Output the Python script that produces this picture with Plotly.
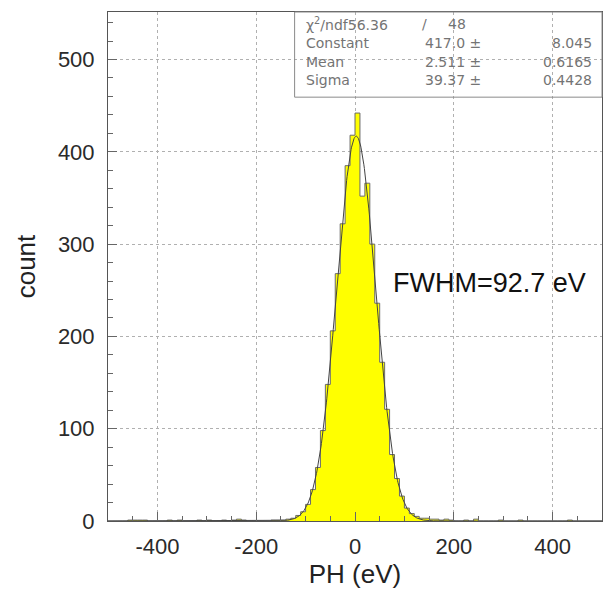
import numpy as np
import plotly.graph_objects as go

# Pulse-height histogram, 10 eV bins from -500 to 500 eV
bin_lo = -500
bin_width = 10
counts = [
    0, 0, 0, 0, 1, 1, 1, 1, 0, 0,          # -500 .. -400
    0, 0, 1, 0, 1, 0, 0, 0, 1, 0,          # -400 .. -300
    1, 0, 0, 1, 0, 1, 2, 1, 0, 0,          # -300 .. -200
    0, 0, 0, 1, 1, 1, 2, 3, 6, 10,         # -200 .. -100
    18, 34, 58, 98, 148, 206, 268, 322, 385, 418,   # -100 .. 0
    442, 352, 366, 300, 236, 172, 121, 72, 46, 27,  # 0 .. 100
    14, 8, 5, 3, 3, 2, 2, 1, 2, 1,         # 100 .. 200
    0, 0, 1, 0, 2, 0, 0, 0, 0, 1,          # 200 .. 300
    0, 0, 0, 1, 0, 0, 0, 0, 0, 0,          # 300 .. 400
    0, 0, 0, 1, 0, 0, 0, 0, 0, 0,          # 400 .. 500
]

# Gaussian fit results
fit_const, fit_const_err = 417.0, 8.045
fit_mean, fit_mean_err = 2.511, 0.6165
fit_sigma, fit_sigma_err = 39.37, 0.4428
chi2, ndf = 56.36, 48
fwhm_ev = 92.7

x_ticks = [-400, -200, 0, 200, 400]
x_tick_labels = ["-400", "-200", "0", "200", "400"]
y_ticks = [0, 100, 200, 300, 400, 500]

edges = [bin_lo + i * bin_width for i in range(len(counts) + 1)]
step_y = counts + [counts[-1]]

fx = np.linspace(-500, 500, 1001)
fy = fit_const * np.exp(-0.5 * ((fx - fit_mean) / fit_sigma) ** 2)

fig = go.Figure()
fig.add_trace(go.Scatter(
    x=edges, y=step_y, mode="lines", line_shape="hv",
    line=dict(color="#6a6a6a", width=1),
    fill="tozeroy", fillcolor="#ffff00", hoverinfo="skip",
))
fig.add_trace(go.Scatter(
    x=fx, y=fy, mode="lines", line=dict(color="#444444", width=1),
    hoverinfo="skip",
))

# plot-area pixel geometry used for the stats box
L, R, T, B = 108, 603, 12, 526
W, H = R - L, B - T


def px(x):
    return (x - L) / W


def py(y):
    return (B - y) / H


stat_font = dict(family="DejaVu Sans", size=14, color="#747474")
annotations = []


def stat(text, x, y, anchor):
    annotations.append(dict(
        text=text, x=px(x), y=py(y), xref="paper", yref="paper",
        xanchor=anchor, yanchor="middle", showarrow=False, font=stat_font,
    ))


stat(f"χ<sup>2</sup>/ndf{chi2:.2f}", 304, 24, "left")
stat("/", 425, 24, "center")
stat(f"{ndf}", 469, 24, "right")
rows = [
    ("Constant", f"{fit_const:.1f} ±", f"{fit_const_err:.3f}", 43),
    ("Mean", f"{fit_mean:.3f} ±", f"{fit_mean_err:.4f}", 62),
    ("Sigma", f"{fit_sigma:.2f} ±", f"{fit_sigma_err:.4f}", 81),
]
for name, val, err, yy in rows:
    stat(name, 304, yy, "left")
    stat(val, 484, yy, "right")
    stat(err, 595, yy, "right")

annotations.append(dict(
    text=f"FWHM={fwhm_ev} eV", x=px(392), y=py(286), xref="paper", yref="paper",
    xanchor="left", yanchor="middle", showarrow=False,
    font=dict(family="Liberation Sans", size=27, color="#111111"),
))

axis_common = dict(
    showline=True, mirror=True, linecolor="#555555", linewidth=1,
    ticks="inside", ticklen=9, tickcolor="#666666",
    showgrid=True, gridcolor="#b0b0b0", griddash="dot", gridwidth=1,
    zeroline=False,
    tickfont=dict(family="Liberation Sans", size=22, color="#2a2a2a"),
    title_font=dict(family="Liberation Sans", size=26, color="#222222"),
)

fig.update_layout(
    width=611, height=592,
    margin=dict(l=L, r=611 - R, t=T, b=592 - B),
    paper_bgcolor="white", plot_bgcolor="white",
    showlegend=False,
    annotations=annotations,
    shapes=[dict(type="rect", xref="paper", yref="paper",
                 x0=px(295), x1=1, y0=py(98), y1=1,
                 line=dict(color="#8a8a8a", width=1), fillcolor="rgba(0,0,0,0)")],
    xaxis=dict(
        range=[-500, 500], tickvals=x_ticks, ticktext=x_tick_labels,
        minor=dict(dtick=50, tick0=0, ticks="inside", ticklen=5, tickcolor="#666666", showgrid=False),
        title=dict(text="PH (eV)", standoff=6),
        ticklabelstandoff=6,
        **axis_common,
    ),
    yaxis=dict(
        range=[0, 551.5], tickvals=y_ticks,
        minor=dict(dtick=20, tick0=0, ticks="inside", ticklen=5, tickcolor="#666666", showgrid=False),
        title=dict(text="count", standoff=14),
        ticklabelstandoff=8,
        **axis_common,
    ),
)

fig.write_html("out.html")
